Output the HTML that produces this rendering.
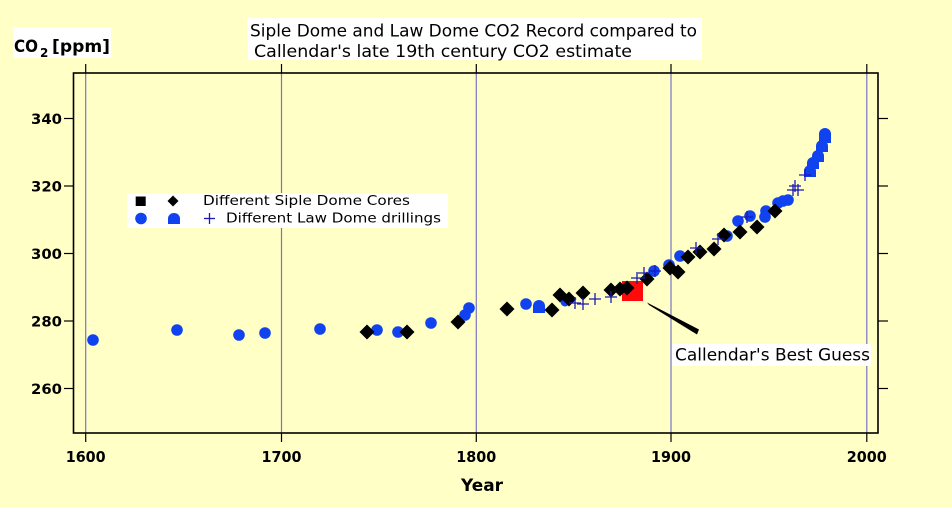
<!DOCTYPE html>
<html><head><meta charset="utf-8"><style>
html,body{margin:0;padding:0;background:#FFFFC6;}
svg{display:block;}
text{font-family:"DejaVu Sans","Liberation Sans",sans-serif;fill:#000;}
</style></head><body>
<svg width="952" height="507" viewBox="0 0 952 507" xmlns="http://www.w3.org/2000/svg">
<rect x="0" y="0" width="952" height="507" fill="#FFFFC6"/>

<!-- grid lines -->
<g stroke="#7676c8" stroke-width="1.2">
<line x1="85.7" y1="73" x2="85.7" y2="433"/>
<line x1="281.5" y1="73" x2="281.5" y2="433"/>
<line x1="476.3" y1="73" x2="476.3" y2="433"/>
<line x1="671" y1="73" x2="671" y2="433"/>
<line x1="866.8" y1="73" x2="866.8" y2="433"/>
</g>
<!-- outer ticks x -->
<g stroke="#000" stroke-width="1.2">
<line x1="85.7" y1="64" x2="85.7" y2="73"/><line x1="85.7" y1="433" x2="85.7" y2="442"/>
<line x1="281.5" y1="64" x2="281.5" y2="73"/><line x1="281.5" y1="433" x2="281.5" y2="442"/>
<line x1="476.3" y1="64" x2="476.3" y2="73"/><line x1="476.3" y1="433" x2="476.3" y2="442"/>
<line x1="671" y1="64" x2="671" y2="73"/><line x1="671" y1="433" x2="671" y2="442"/>
<line x1="866.8" y1="64" x2="866.8" y2="73"/><line x1="866.8" y1="433" x2="866.8" y2="442"/>
<!-- y ticks -->
<line x1="64" y1="118.5" x2="73.5" y2="118.5"/><line x1="878" y1="118.5" x2="888" y2="118.5"/>
<line x1="64" y1="186" x2="73.5" y2="186"/><line x1="878" y1="186" x2="888" y2="186"/>
<line x1="64" y1="253.5" x2="73.5" y2="253.5"/><line x1="878" y1="253.5" x2="888" y2="253.5"/>
<line x1="64" y1="321" x2="73.5" y2="321"/><line x1="878" y1="321" x2="888" y2="321"/>
<line x1="64" y1="388.5" x2="73.5" y2="388.5"/><line x1="878" y1="388.5" x2="888" y2="388.5"/>
</g>
<rect x="73.5" y="73" width="804.5" height="360" fill="none" stroke="#000" stroke-width="1.6"/>

<!-- y labels -->
<g font-size="14" font-weight="bold" text-anchor="end">
<text x="62" y="124" textLength="31" lengthAdjust="spacingAndGlyphs">340</text>
<text x="62" y="191.5" textLength="31" lengthAdjust="spacingAndGlyphs">320</text>
<text x="62" y="259" textLength="31" lengthAdjust="spacingAndGlyphs">300</text>
<text x="62" y="326.5" textLength="31" lengthAdjust="spacingAndGlyphs">280</text>
<text x="62" y="394" textLength="31" lengthAdjust="spacingAndGlyphs">260</text>
</g>
<!-- x labels -->
<g font-size="15" font-weight="bold">
<text x="65.7" y="462" textLength="40" lengthAdjust="spacingAndGlyphs">1600</text>
<text x="261.5" y="462" textLength="40" lengthAdjust="spacingAndGlyphs">1700</text>
<text x="456.3" y="462" textLength="40" lengthAdjust="spacingAndGlyphs">1800</text>
<text x="651" y="462" textLength="40" lengthAdjust="spacingAndGlyphs">1900</text>
<text x="846.8" y="462" textLength="40" lengthAdjust="spacingAndGlyphs">2000</text>
</g>
<text x="461" y="491" font-size="17" font-weight="bold" textLength="42" lengthAdjust="spacingAndGlyphs">Year</text>

<!-- CO2 label -->
<rect x="13" y="27" width="98" height="31" fill="#fff"/>
<text x="14" y="52" font-size="17" font-weight="bold" textLength="24" lengthAdjust="spacingAndGlyphs">CO</text>
<text x="40" y="57" font-size="12" font-weight="bold">2</text>
<text x="52" y="52" font-size="17" font-weight="bold" textLength="58" lengthAdjust="spacingAndGlyphs">[ppm]</text>

<!-- title -->
<rect x="247" y="18" width="455" height="22" fill="#fff"/>
<rect x="248" y="40" width="454" height="20" fill="#fff"/>
<text x="250" y="36.5" font-size="17" textLength="447" lengthAdjust="spacingAndGlyphs">Siple Dome and Law Dome CO2 Record compared to</text>
<text x="254" y="57" font-size="17" textLength="378" lengthAdjust="spacingAndGlyphs">Callendar's late 19th century CO2 estimate</text>

<!-- legend -->
<rect x="127" y="193" width="321" height="35" fill="#fff"/>
<rect x="135.7" y="196.5" width="10" height="9.5" fill="#000"/>
<polygon points="173,195.5 178.5,201 173,206.5 167.5,201" fill="#000"/>
<text x="203" y="205" font-size="13.5" textLength="207" lengthAdjust="spacingAndGlyphs">Different Siple Dome Cores</text>
<circle cx="141" cy="218.5" r="5.8" fill="#1042f0"/>
<path d="M168,224 L168,218.5 A6,5.5 0 0 1 180,218.5 L180,224 Z" fill="#1042f0"/>
<g stroke="#1a1ab4" stroke-width="1.3"><line x1="204" y1="218.5" x2="215" y2="218.5"/><line x1="209.5" y1="213" x2="209.5" y2="224"/></g>
<text x="226" y="222.7" font-size="13.5" textLength="215" lengthAdjust="spacingAndGlyphs">Different Law Dome drillings</text>

<!-- blue circles -->
<g fill="#1042f0">
<circle cx="93" cy="340" r="5.8"/>
<circle cx="177" cy="330" r="5.8"/>
<circle cx="239" cy="335" r="5.8"/>
<circle cx="265" cy="333" r="5.8"/>
<circle cx="320" cy="329" r="5.8"/>
<circle cx="377" cy="330" r="5.8"/>
<circle cx="398" cy="332" r="5.8"/>
<circle cx="431" cy="323" r="5.8"/>
<circle cx="465" cy="315" r="5.8"/>
<circle cx="469" cy="308" r="5.8"/>
<circle cx="526" cy="304" r="5.8"/>
<circle cx="565" cy="302" r="4.5"/>
<circle cx="654" cy="271" r="5.8"/>
<circle cx="669" cy="265" r="5.8"/>
<circle cx="680" cy="256" r="5.8"/>
<circle cx="727" cy="236" r="5.8"/>
<circle cx="738" cy="221" r="5.8"/>
<circle cx="750" cy="216" r="5.8"/>
<circle cx="765" cy="217" r="5.8"/>
<circle cx="766" cy="211" r="5.8"/>
<circle cx="778" cy="203" r="5.8"/>
<circle cx="788" cy="200" r="5.8"/>
<circle cx="783" cy="201" r="5.8"/>
</g>
<!-- blue house shapes -->
<g fill="#1042f0">
<path d="M533,313 L533,306 A6,6 0 0 1 545,306 L545,313 Z"/>
<path d="M804,177 L804,171 A6,6 0 0 1 816,171 L816,177 Z"/>
<path d="M807,169 L807,163 A6,6 0 0 1 819,163 L819,169 Z"/>
<path d="M812,162 L812,156 A6,6 0 0 1 824,156 L824,162 Z"/>
<path d="M816,152 L816,146 A6,6 0 0 1 828,146 L828,152 Z"/>
<path d="M819,143 L819,137 A6,6 0 0 1 831,137 L831,143 Z"/>
<path d="M819,140 L819,134 A6,6 0 0 1 831,134 L831,140 Z"/>
</g>

<!-- red square -->
<rect x="622" y="281" width="21" height="20" fill="#ff0a0a"/>

<!-- diamonds -->
<g fill="#000">
<polygon points="367,324.5 374.5,332 367,339.5 359.5,332"/>
<polygon points="407,324.5 414.5,332 407,339.5 399.5,332"/>
<polygon points="458,314.5 465.5,322 458,329.5 450.5,322"/>
<polygon points="507,301.5 514.5,309 507,316.5 499.5,309"/>
<polygon points="552,302.5 559.5,310 552,317.5 544.5,310"/>
<polygon points="560,287.5 567.5,295 560,302.5 552.5,295"/>
<polygon points="569,291.5 576.5,299 569,306.5 561.5,299"/>
<polygon points="583,285.5 590.5,293 583,300.5 575.5,293"/>
<polygon points="611,282.5 618.5,290 611,297.5 603.5,290"/>
<polygon points="620,281.5 627.5,289 620,296.5 612.5,289"/>
<polygon points="627,280.5 634.5,288 627,295.5 619.5,288"/>
<polygon points="647,271.5 654.5,279 647,286.5 639.5,279"/>
<polygon points="670,260.5 677.5,268 670,275.5 662.5,268"/>
<polygon points="678,264.5 685.5,272 678,279.5 670.5,272"/>
<polygon points="688,249.5 695.5,257 688,264.5 680.5,257"/>
<polygon points="700,244.5 707.5,252 700,259.5 692.5,252"/>
<polygon points="714,241.5 721.5,249 714,256.5 706.5,249"/>
<polygon points="724,227.5 731.5,235 724,242.5 716.5,235"/>
<polygon points="740,224.5 747.5,232 740,239.5 732.5,232"/>
<polygon points="757,219.5 764.5,227 757,234.5 749.5,227"/>
<polygon points="775,203.5 782.5,211 775,218.5 767.5,211"/>
</g>

<!-- pluses -->
<g stroke="#1a1ab4" stroke-width="1.3">
<path d="M569,303h12M575,297v12"/>
<path d="M577,304h12M583,298v12"/>
<path d="M589,299h12M595,293v12"/>
<path d="M605,297h12M611,291v12"/>
<path d="M631,278h12M637,272v12"/>
<path d="M638,273h12M644,267v12"/>
<path d="M649,271h12M655,265v12"/>
<path d="M690,248h12M696,242v12"/>
<path d="M712,239h12M718,233v12"/>
<path d="M741,217h12M747,211v12"/>
<path d="M787,190h12M793,184v12"/>
<path d="M792,190h12M798,184v12"/>
<path d="M789,186h12M795,180v12"/>
<path d="M799,175h12M805,169v12"/>
<path d="M798,320h0"/>
</g>

<!-- arrow -->
<polygon points="647,302.5 649,305 697,334.5 699,329.5" fill="#000"/>

<!-- Callendar label -->
<rect x="672" y="344" width="199" height="22" fill="#fff"/>
<text x="675" y="360.5" font-size="17" textLength="195" lengthAdjust="spacingAndGlyphs">Callendar's Best Guess</text>
</svg>
</body></html>
